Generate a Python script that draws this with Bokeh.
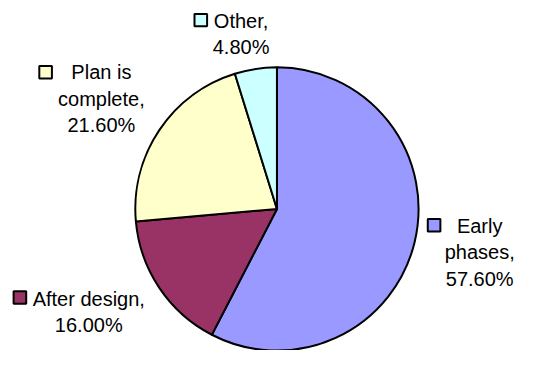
import numpy as np
from bokeh.plotting import figure
from bokeh.models import Range1d, ColumnDataSource
from bokeh.core.properties import value
from bokeh.embed import file_html
from bokeh.resources import INLINE

# ---- data ----
categories = ["Early phases", "After design", "Plan is complete", "Other"]
shares = [57.60, 16.00, 21.60, 4.80]
colors = ["#9999FF", "#993366", "#FFFFCC", "#CCFFFF"]
label_breaks = [["Early", "phases,"], ["After design,"], ["Plan is", "complete,"], ["Other,"]]

# ---- layout (coordinates of the 533x366 reference, y measured from top) ----
W, H = 533, 366
cx, cy, r = 285, 218, 146
label_pos = [  # (text centre x, first line y, key x, key y)
    (494, 236, 447, 235),
    (91, 312, 20, 310.5),
    (104, 75, 46.5, 75),
    (248, 21.5, 206.5, 20.5),
]
line_h = 27.5
font = "Liberation Sans"
fsize = "20px"

def fy(y):
    return H - y

p = figure(width=W - 16, height=H - 16, output_backend="svg", toolbar_location=None,
           x_range=Range1d(0, W), y_range=Range1d(0, H), min_border=0)
p.axis.visible = False
p.grid.visible = False
p.outline_line_color = None
p.background_fill_color = "white"

tot = sum(shares)
cum = np.cumsum([0] + shares) / tot
start = [np.pi / 2 - 2 * np.pi * c for c in cum[:-1]]
end = [np.pi / 2 - 2 * np.pi * c for c in cum[1:]]
src = ColumnDataSource(dict(x=[cx] * len(shares), y=[fy(cy)] * len(shares),
                            start=start, end=end, color=colors, cat=categories))
p.wedge(x="x", y="y", radius=r, start_angle="start", end_angle="end", direction="clock",
        fill_color="color", line_color="black", line_width=2, source=src)

tx, ty, tt = [], [], []
kx, ky, kc = [], [], []
for (lx, ly, kxx, kyy), brk, v, c in zip(label_pos, label_breaks, shares, colors):
    lines = brk + [f"{v:.2f}%"]
    for i, t in enumerate(lines):
        tx.append(lx)
        ty.append(fy(ly + i * line_h))
        tt.append(t)
    kx.append(kxx)
    ky.append(fy(kyy))
    kc.append(c)

p.text(x=tx, y=ty, text=tt, text_align="center", text_baseline="middle",
       text_font=value(font), text_font_size=fsize, text_color="black")
p.rect(x=kx, y=ky, width=13, height=13, fill_color=kc, line_color="black", line_width=2)

open("out.html", "w").write(file_html(p, INLINE))
